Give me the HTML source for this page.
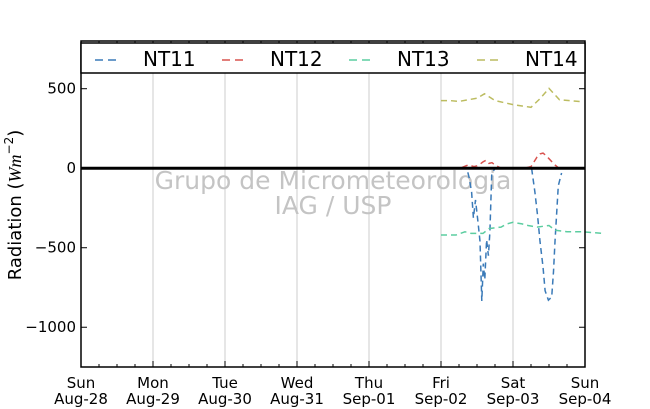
<!DOCTYPE html>
<html><head><meta charset="utf-8"><style>
html,body{margin:0;padding:0;background:#fff;width:650px;height:409px;overflow:hidden}
svg{font-family:"DejaVu Sans","Liberation Sans",sans-serif}
</style></head><body>
<svg id="chart" width="650" height="409" xmlns="http://www.w3.org/2000/svg">
<g id="grid"></g>
<g id="wm">
<text x="333" y="189" text-anchor="middle" font-size="25" fill="#c4c4c4">Grupo de Micrometeorologia</text>
<text x="333" y="214" text-anchor="middle" font-size="25" fill="#c4c4c4">IAG / USP</text>
</g>
<g id="series"></g>
<g id="axes"></g>
<text transform="translate(21,205) rotate(-90)" text-anchor="middle" font-size="18">Radiation (<tspan font-family="Liberation Serif" font-style="italic">Wm</tspan><tspan font-size="12" dy="-8">−2</tspan><tspan dy="8">)</tspan></text>
</svg>
<script>
const dayNames=["Sun","Mon","Tue","Wed","Thu","Fri","Sat","Sun"];
const dayDates=["Aug-28","Aug-29","Aug-30","Aug-31","Sep-01","Sep-02","Sep-03","Sep-04"];
const yTicks=[500,0,-500,-1000];
const seriesNames=["NT11","NT12","NT13","NT14"];
const seriesColors=["#3a7ab8","#d9534f","#5ccda0","#bcbc60"];
// hours since Fri Sep-02 00:00
const nt11H=[0,8.6,9.4,10.2,10.8,11.5,12.4,13,13.6,14.1,14.6,15.2,15.8,16.3,16.9,17.4,18,20,24,28,30.2,31.3,32.2,33,34,34.7,35.8,36.9,37.5,38,39.1,40.2];
const nt11V=[0,0,-60,-150,-313,-200,-350,-460,-835,-600,-700,-450,-550,-400,-44,-20,0,0,0,0,0,-150,-300,-460,-620,-770,-830,-810,-650,-460,-110,-30];
const nt12H=[7,9,11,12,13,14,15,16,17,18,19,20,22,24,26,28,30,31,32,33,34,35,36,37,38,39];
const nt12V=[5,20,10,15,25,40,50,30,35,20,10,0,0,0,0,0,10,40,70,90,95,80,60,40,20,5];
const nt13H=[0,5,8,10,14,16,20,22,24,27,29,32,36,38,42,47,54];
const nt13V=[-420,-420,-400,-410,-410,-380,-370,-350,-340,-350,-360,-370,-360,-390,-400,-400,-410];
const nt14H=[0,3,6,9,12,14.5,18,24,30,33,36,39.5,47];
const nt14V=[425,425,420,430,440,468,425,400,383,437,502,430,418];

const L=81,R=585,T=41,B=367,yMax=800,yMin=-1250;
const xDay=d=>L+(R-L)*d/7;
const xH=h=>xDay(5)+h*72/24;
const y=v=>T+(B-T)*(yMax-v)/(yMax-yMin);
const NS="http://www.w3.org/2000/svg";
function mk(tag,attrs,parent){const e=document.createElementNS(NS,tag);for(const k in attrs)e.setAttribute(k,attrs[k]);parent.appendChild(e);return e;}
const grid=document.getElementById('grid'),axes=document.getElementById('axes'),ser=document.getElementById('series');
for(let d=1;d<7;d++){const g=mk('line',{x1:xDay(d),x2:xDay(d),y1:T,y2:B,stroke:'#cccccc','stroke-width':1},grid);

}
const z=mk('line',{x1:L,x2:R,y1:y(0),y2:y(0),stroke:'#000','stroke-width':3},axes);


const sets=[[nt11H,nt11V],[nt12H,nt12V],[nt13H,nt13V],[nt14H,nt14V]];
sets.forEach((s,i)=>{const pts=s[0].map((h,j)=>xH(h).toFixed(1)+','+y(s[1][j]).toFixed(1)).join(' ');
const p=mk('polyline',{points:pts,fill:'none',stroke:seriesColors[i],'stroke-width':1.5,'stroke-dasharray':'6,4'},ser);

});
const fr=mk('rect',{x:L,y:T,width:R-L,height:B-T,fill:'none',stroke:'#000','stroke-width':1.5},axes);


for(let k=0;k<=28;k++){const xx=L+(R-L)*k/28;const len=(k%4==0)?6:3;
mk('line',{x1:xx,x2:xx,y1:B,y2:B-len,stroke:'#000'},axes);mk('line',{x1:xx,x2:xx,y1:T,y2:T+len,stroke:'#000'},axes);}
dayNames.forEach((n,d)=>{const t=mk('text',{x:xDay(d),y:388,'text-anchor':'middle','font-size':15},axes);t.textContent=n;


const t2=mk('text',{x:xDay(d),y:404,'text-anchor':'middle','font-size':15},axes);t2.textContent=dayDates[d];

});
yTicks.forEach(v=>{mk('line',{x1:L,x2:L+6,y1:y(v),y2:y(v),stroke:'#000'},axes);mk('line',{x1:R,x2:R-6,y1:y(v),y2:y(v),stroke:'#000'},axes);
const t=mk('text',{x:L-5,y:y(v)+5,'text-anchor':'end','font-size':15},axes);t.textContent=v<0?'\u2212'+(-v):String(v);

});
const lg=mk('g',{},axes);


mk('rect',{x:L,y:T+2,width:R-L,height:30,fill:'#fff',stroke:'#000','stroke-width':1.5},lg);
const lx=[95,222,349,477];
seriesNames.forEach((n,i)=>{const e=mk('g',{},lg);


mk('line',{x1:lx[i],x2:lx[i]+26,y1:60,y2:60,stroke:seriesColors[i],'stroke-width':1.5,'stroke-dasharray':'8,5'},e);
const t=mk('text',{x:lx[i]+48,y:66,'font-size':20},e);t.textContent=n;});
</script>
</body></html>
